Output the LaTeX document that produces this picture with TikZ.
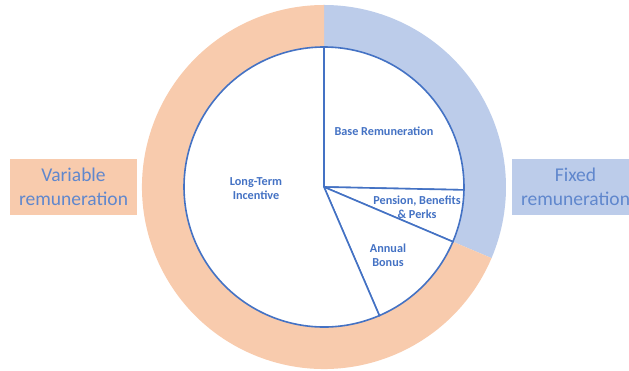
\documentclass[tikz,border=0pt]{standalone}
\usepackage{fontspec}
\setmainfont{Carlito}
\definecolor{accblue}{HTML}{4472C4}
\definecolor{accorange}{HTML}{ED7D31}
\begin{document}
\begin{tikzpicture}[x=1pt, y=1pt,
        slice/.style={draw=accblue, line width=1.6pt, fill=white},
        fixedpart/.style={fill=accblue!36!white},
        varpart/.style={fill=accorange!40!white},
        lbl/.style={text=accblue, font=\bfseries\fontsize{12.2}{14}\selectfont, align=center},
        boxlbl/.style={text=accblue!85!white, font=\fontsize{19.5}{24}\selectfont, align=center, minimum width=127pt, minimum height=56pt}]
        \useasboundingbox (0,0) rectangle (629,371);
        \coordinate (O) at (324,184);

        % outer ring
        \fill[fixedpart] (O) -- ++(90:182) arc[start angle=90, end angle=-23, radius=182] -- cycle;
        \fill[varpart] (O) -- ++(-23:182) arc[start angle=-23, end angle=-270, radius=182] -- cycle;

        % pie
        \draw[slice] (O) -- ++(90:140) arc[start angle=90, end angle=-1.2, radius=140] -- cycle;
        \draw[slice] (O) -- ++(-1.2:140) arc[start angle=-1.2, end angle=-23, radius=140] -- cycle;
        \draw[slice] (O) -- ++(-23:140) arc[start angle=-23, end angle=-66.7, radius=140] -- cycle;
        \draw[slice] (O) -- ++(-66.7:140) arc[start angle=-66.7, end angle=-270, radius=140] -- cycle;

        \node[lbl] (base) at (384,240) {Base Remuneration};
        \node[lbl] (pension) at (417,164) {Pension, Benefits\\\& Perks};
        \node[lbl] (bonus) at (388,116) {Annual\\Bonus};
        \node[lbl] (lti) at (256,182) {Long-Term\\Incentive};

        \node[boxlbl, varpart] (variable) at (73.5,184) {Variable\\remuneration};
        \node[boxlbl, fixedpart] (fixed) at (575.5,184) {Fixed\\remuneration};

        \end{tikzpicture}
\end{document}
